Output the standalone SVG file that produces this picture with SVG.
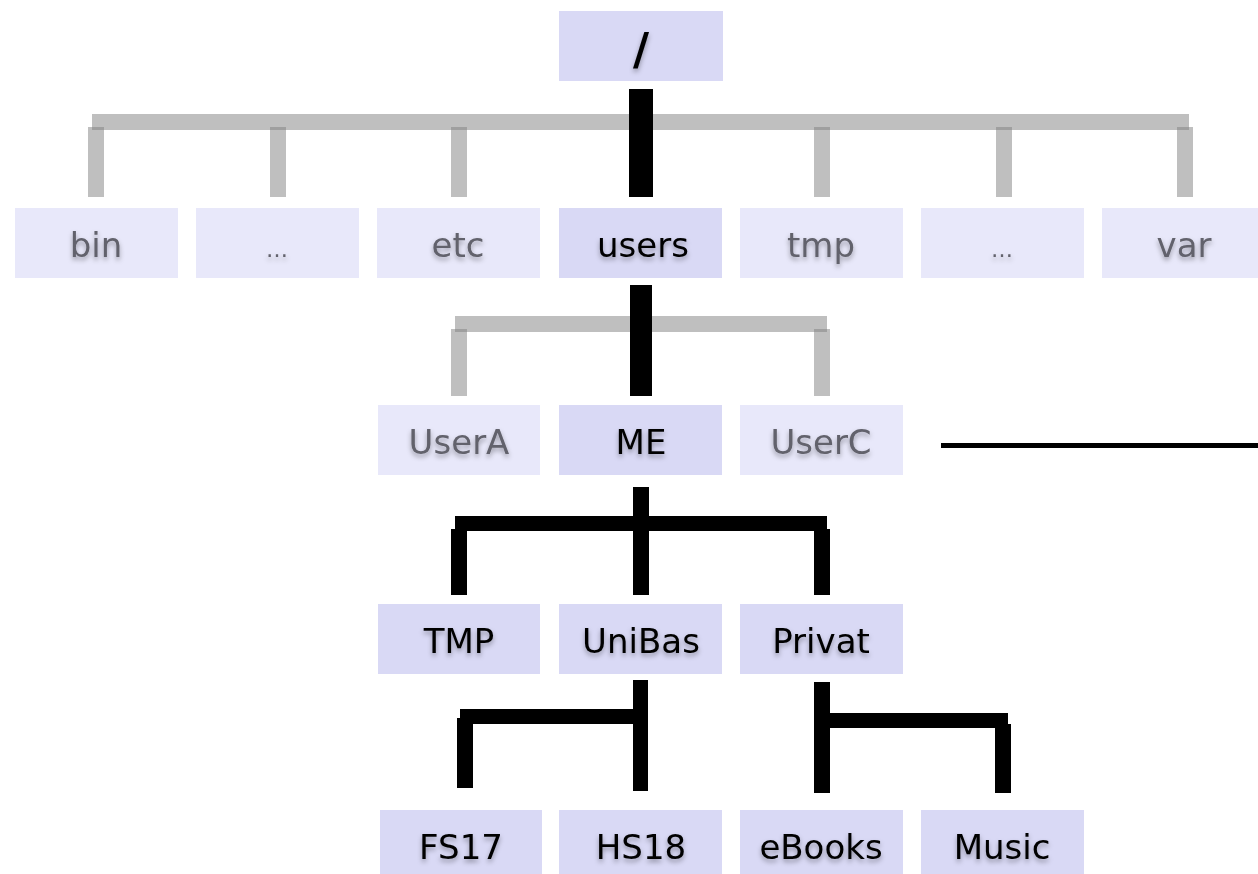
<svg xmlns="http://www.w3.org/2000/svg" width="1258" height="874" viewBox="0 0 1258 874">
  <defs>
    <filter id="txtShadow" x="-20%" y="-30%" width="140%" height="170%">
      <feDropShadow dx="0" dy="3" stdDeviation="2.5" flood-color="#000" flood-opacity="0.35"/>
    </filter>
    <style>
      .box { fill: #d9d9f5; }
      .box.dim { fill: #e8e8fa; }
      .lbl { font-family: "DejaVu Sans", Verdana, sans-serif; font-size: 34px; text-anchor: middle; fill: #000; filter: url(#txtShadow); }
      .lbl.dim { fill: #62626c; }
      .gray { fill: #7f7f7f; fill-opacity: 0.5; }
      .blk { fill: #000; }
    </style>
  </defs>

  <!-- connectors -->
  <g id="connectors">
    <!-- root level fan-out (grey) -->
    <rect class="gray" x="92" y="114" width="1097" height="16"/>
    <rect class="gray" x="88" y="127" width="16" height="70"/>
    <rect class="gray" x="270" y="127" width="16" height="70"/>
    <rect class="gray" x="451" y="127" width="16" height="70"/>
    <rect class="gray" x="814" y="127" width="16" height="70"/>
    <rect class="gray" x="996" y="127" width="16" height="70"/>
    <rect class="gray" x="1177" y="127" width="16" height="70"/>
    <rect class="blk" x="629" y="89" width="24" height="108"/>

    <!-- users fan-out -->
    <rect class="gray" x="455" y="316" width="372" height="16"/>
    <rect class="gray" x="451" y="329" width="16" height="67"/>
    <rect class="gray" x="814" y="329" width="16" height="67"/>
    <rect class="blk" x="630" y="285" width="22" height="111"/>

    <!-- line to the right of UserC -->
    <rect class="blk" x="941" y="443" width="317" height="5"/>

    <!-- ME fan-out -->
    <rect class="blk" x="633" y="487" width="16" height="108"/>
    <rect class="blk" x="455" y="516" width="372" height="15"/>
    <rect class="blk" x="451" y="529" width="16" height="66"/>
    <rect class="blk" x="814" y="529" width="16" height="66"/>

    <!-- UniBas fan-out -->
    <rect class="blk" x="633" y="680" width="15" height="111"/>
    <rect class="blk" x="460" y="709" width="188" height="15"/>
    <rect class="blk" x="457" y="718" width="16" height="70"/>

    <!-- Privat fan-out -->
    <rect class="blk" x="814" y="682" width="16" height="111"/>
    <rect class="blk" x="814" y="713" width="194" height="15"/>
    <rect class="blk" x="995" y="724" width="16" height="69"/>
  </g>

  <!-- row 0 -->
  <g id="n-root">
    <rect class="box" x="559" y="11" width="164" height="70"/>
    <text class="lbl" x="641" y="65" style="font-weight:bold;font-size:44px">/</text>
  </g>

  <!-- row 1 -->
  <g id="n-bin">
    <rect class="box dim" x="15" y="208" width="163" height="70"/>
    <text class="lbl dim" x="96" y="257">bin</text>
  </g>
  <g id="n-dots1">
    <rect class="box dim" x="196" y="208" width="163" height="70"/>
    <text class="lbl dim" x="277" y="257" style="font-size:22px">…</text>
  </g>
  <g id="n-etc">
    <rect class="box dim" x="377" y="208" width="163" height="70"/>
    <text class="lbl dim" x="458" y="257">etc</text>
  </g>
  <g id="n-users">
    <rect class="box" x="559" y="208" width="163" height="70"/>
    <text class="lbl" x="643" y="257">users</text>
  </g>
  <g id="n-tmp">
    <rect class="box dim" x="740" y="208" width="163" height="70"/>
    <text class="lbl dim" x="821" y="257">tmp</text>
  </g>
  <g id="n-dots2">
    <rect class="box dim" x="921" y="208" width="163" height="70"/>
    <text class="lbl dim" x="1002" y="257" style="font-size:22px">…</text>
  </g>
  <g id="n-var">
    <rect class="box dim" x="1102" y="208" width="163" height="70"/>
    <text class="lbl dim" x="1184" y="257">var</text>
  </g>

  <!-- row 2 -->
  <g id="n-usera">
    <rect class="box dim" x="378" y="405" width="162" height="70"/>
    <text class="lbl dim" x="459" y="454">UserA</text>
  </g>
  <g id="n-me">
    <rect class="box" x="559" y="405" width="163" height="70"/>
    <text class="lbl" x="641" y="454">ME</text>
  </g>
  <g id="n-userc">
    <rect class="box dim" x="740" y="405" width="163" height="70"/>
    <text class="lbl dim" x="821" y="454">UserC</text>
  </g>

  <!-- row 3 -->
  <g id="n-tmp2">
    <rect class="box" x="378" y="604" width="162" height="70"/>
    <text class="lbl" x="459" y="653">TMP</text>
  </g>
  <g id="n-unibas">
    <rect class="box" x="559" y="604" width="163" height="70"/>
    <text class="lbl" x="641" y="653">UniBas</text>
  </g>
  <g id="n-privat">
    <rect class="box" x="740" y="604" width="163" height="70"/>
    <text class="lbl" x="821" y="653">Privat</text>
  </g>

  <!-- row 4 -->
  <g id="n-fs17">
    <rect class="box" x="380" y="810" width="162" height="70"/>
    <text class="lbl" x="461" y="859">FS17</text>
  </g>
  <g id="n-hs18">
    <rect class="box" x="559" y="810" width="163" height="70"/>
    <text class="lbl" x="641" y="859">HS18</text>
  </g>
  <g id="n-ebooks">
    <rect class="box" x="740" y="810" width="163" height="70"/>
    <text class="lbl" x="821" y="859">eBooks</text>
  </g>
  <g id="n-music">
    <rect class="box" x="921" y="810" width="163" height="70"/>
    <text class="lbl" x="1002" y="859">Music</text>
  </g>
</svg>
